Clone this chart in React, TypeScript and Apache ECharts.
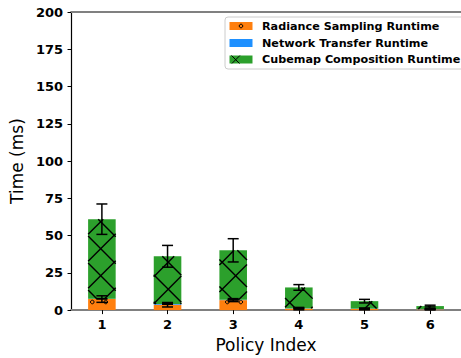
import React, { useEffect, useRef } from "react";
import * as echarts from "echarts";

// ---- data ----
const categories = [1, 2, 3, 4, 5, 6];
const seriesNames = ["Radiance Sampling Runtime", "Network Transfer Runtime", "Cubemap Composition Runtime"];
const radianceSampling = [7.4, 3.6, 6.7, 1.0, 0.8, 0.5];
const radianceErr = [2.2, 1.5, 1.0, 0.8, 0.6, 0.4];
const networkTransfer = [0.2, 0.5, 0.2, 0.2, 0.2, 0.2];
const networkErr = [0.1, 0.2, 0.1, 0.1, 0.1, 0.1];
const cubemapComposition = [53.4, 32.0, 33.2, 14.0, 5.0, 2.0];
const totalErr = [10.2, 7.3, 7.8, 1.9, 1.2, 0.6];
const yTicks = { min: 0, max: 200, interval: 25 };
const xName = "Policy Index";
const yName = "Time (ms)";

// ---- style ----
const FONT = "DejaVu Sans";
const COLORS = ["#ff7f0e", "#1e90ff", "#2ca02c"];
const BAR_WIDTH = 0.42;
const HATCH_STEP = 13.5;
const X_ANCHOR = { x: 100.7, y: 221.7 };
const O_ANCHOR = { x: 92.3, y: 302 };

function crossHatch(x0: number, y0: number, x1: number, y1: number, lw = 1.4) {
  const out: any[] = [];
  const d = 2 * HATCH_STEP;
  const c1base = X_ANCHOR.y - X_ANCHOR.x;
  const c2base = X_ANCHOR.y + X_ANCHOR.x;
  const style = { stroke: "#000", lineWidth: lw, fill: null };
  // y = x + c
  const cMin1 = y0 - x1, cMax1 = y1 - x0;
  for (let i = Math.ceil((cMin1 - c1base) / d); c1base + i * d <= cMax1; i++) {
    const c = c1base + i * d;
    const xa = Math.max(x0, y0 - c), xb = Math.min(x1, y1 - c);
    if (xb - xa > 0.3) out.push({ type: "line", shape: { x1: xa, y1: xa + c, x2: xb, y2: xb + c }, style });
  }
  // y = -x + c
  const cMin2 = x0 + y0, cMax2 = x1 + y1;
  for (let j = Math.ceil((cMin2 - c2base) / d); c2base + j * d <= cMax2; j++) {
    const c = c2base + j * d;
    const xa = Math.max(x0, c - y1), xb = Math.min(x1, c - y0);
    if (xb - xa > 0.3) out.push({ type: "line", shape: { x1: xa, y1: c - xa, x2: xb, y2: c - xb }, style });
  }
  return out;
}

function circleHatch(x0: number, y0: number, x1: number, y1: number) {
  const out: any[] = [];
  const s = HATCH_STEP;
  const kStart = Math.ceil((x0 + 1 - O_ANCHOR.x) / s);
  for (let k = kStart; O_ANCHOR.x + k * s <= x1 - 1; k++) {
    const cx = O_ANCHOR.x + k * s;
    for (let m = Math.ceil((O_ANCHOR.y - (y1 - 1)) / s); O_ANCHOR.y - m * s >= y0 + 0.5; m++) {
      const cy = O_ANCHOR.y - m * s;
      out.push({ type: "circle", shape: { cx, cy, r: 1.8 }, style: { fill: null, stroke: "#000", lineWidth: 1 } });
    }
  }
  return out;
}

export default function App() {
  const ref = useRef<HTMLDivElement>(null);
  useEffect(() => {
    if (!ref.current) return;
    const chart = echarts.init(ref.current, null, { renderer: "svg" });

    const data = categories.map((c, i) => [
      c, radianceSampling[i], networkTransfer[i], cubemapComposition[i],
      radianceErr[i], networkErr[i], totalErr[i],
    ]);

    const renderItem = (params: any, api: any) => {
      const x = api.value(0);
      const o = api.value(1), n = api.value(2), g = api.value(3);
      const eo = api.value(4), en = api.value(5), et = api.value(6);
      const w = api.size([BAR_WIDTH, 0])[0];
      const [cx, yBase] = api.coord([x, 0]);
      const yO = api.coord([x, o])[1];
      const yN = api.coord([x, o + n])[1];
      const yG = api.coord([x, o + n + g])[1];
      const left = cx - w / 2, right = cx + w / 2;
      const children: any[] = [];
      children.push({ type: "rect", shape: { x: left, y: yO, width: w, height: yBase - yO }, style: { fill: COLORS[0] } });
      children.push(...circleHatch(left, yO, right, yBase));
      children.push({ type: "rect", shape: { x: left, y: yN, width: w, height: yO - yN }, style: { fill: COLORS[1] } });
      children.push({ type: "rect", shape: { x: left, y: yG, width: w, height: yN - yG }, style: { fill: COLORS[2] } });
      children.push(...crossHatch(left, yG, right, yN));
      const err = (v: number, e: number) => {
        const yt = api.coord([x, v + e])[1];
        const yb = api.coord([x, Math.max(v - e, 0)])[1];
        const st = { stroke: "#000", lineWidth: 1.5 };
        const cap = 5.5;
        children.push({ type: "line", shape: { x1: cx, y1: yt, x2: cx, y2: yb }, style: st });
        children.push({ type: "line", shape: { x1: cx - cap, y1: yt, x2: cx + cap, y2: yt }, style: st });
        children.push({ type: "line", shape: { x1: cx - cap, y1: yb, x2: cx + cap, y2: yb }, style: st });
      };
      err(o, eo);
      err(o + n, en);
      err(o + n + g, et);
      return { type: "group", children };
    };

    // legend (graphic)
    const legendCenters = [26, 43, 59.5];
    const legendEls: any[] = [
      { type: "rect", shape: { x: 225, y: 17, width: 245, height: 52, r: 3 }, style: { fill: "rgba(255,255,255,0.8)", stroke: "#cccccc", lineWidth: 1 } },
    ];
    seriesNames.forEach((name, i) => {
      const cy = legendCenters[i];
      legendEls.push({ type: "rect", shape: { x: 229.5, y: cy - 4, width: 23, height: 8 }, style: { fill: COLORS[i] } });
      if (i === 0) legendEls.push({ type: "circle", shape: { cx: 241, cy, r: 1.8 }, style: { fill: null, stroke: "#000", lineWidth: 1 } });
      if (i === 2) legendEls.push(...crossHatch(229.5, cy - 4, 252.5, cy + 4, 1));
      legendEls.push({
        type: "text", x: 262, y: cy,
        style: { text: name, fill: "#000", fontSize: 11.2, fontWeight: "bold", fontFamily: FONT, verticalAlign: "middle" },
      });
    });

    const labelStyle = { fontFamily: FONT, fontWeight: "bold", fontSize: 13, color: "#000" };

    chart.setOption({
      animation: false,
      grid: { left: 69, top: 12, width: 401.5, height: 299, containLabel: false },
      xAxis: [
        {
          type: "value", min: 0.53, max: 6.47, position: "bottom",
          axisLine: { show: true, onZero: false, lineStyle: { color: "#808080", width: 2 } },
          axisTick: { show: true, customValues: categories, length: 4, lineStyle: { color: "#000", width: 1 } },
          axisLabel: { ...labelStyle, customValues: categories, margin: 8 },
          splitLine: { show: false },
          name: xName, nameLocation: "middle", nameGap: 24,
          nameTextStyle: { fontFamily: FONT, fontSize: 17, color: "#000" },
        },
        {
          type: "value", min: 0.53, max: 6.47, position: "top",
          axisLine: { show: true, onZero: false, lineStyle: { color: "#808080", width: 2 } },
          axisTick: { show: false }, axisLabel: { show: false }, splitLine: { show: false },
        },
      ],
      yAxis: {
        type: "value", min: yTicks.min, max: yTicks.max, interval: yTicks.interval,
        axisLine: { show: true, onZero: false, lineStyle: { color: "#000", width: 1.2 } },
        axisTick: { show: true, length: 3.5, lineStyle: { color: "#000", width: 1 } },
        axisLabel: { ...labelStyle, margin: 8 },
        splitLine: { show: false },
        name: yName, nameLocation: "middle", nameGap: 40,
        nameTextStyle: { fontFamily: FONT, fontSize: 17, color: "#000" },
      },
      series: [
        {
          type: "custom", xAxisIndex: 0, yAxisIndex: 0,
          encode: { x: 0, y: 3 },
          data, renderItem, clip: false, z: 2,
        },
      ],
      graphic: { elements: [{ type: "group", z: 100, children: legendEls }] },
    });
    return () => chart.dispose();
  }, []);
  return <div ref={ref} style={{ position: "absolute", left: 0, top: 0, width: 461, height: 358 }} />;
}
